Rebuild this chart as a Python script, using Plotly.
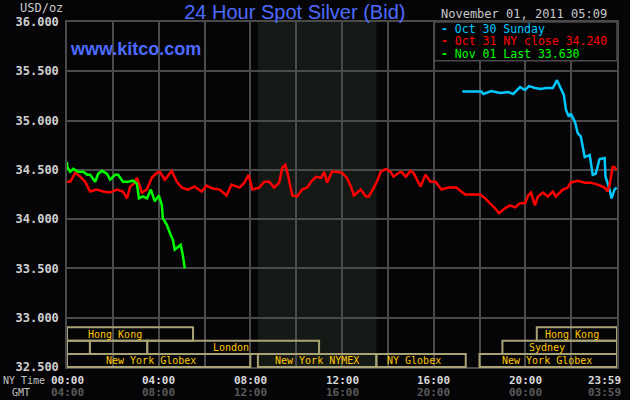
import plotly.graph_objects as go

# hours since 00:00 NY time, price in USD/oz
oct31_hours = [0.0, 0.14, 0.36, 0.58, 0.79, 1.01, 1.30, 1.58, 1.88, 2.18, 2.44, 2.62, 2.75, 2.97, 3.05,
               3.27, 3.48, 3.70, 3.92, 4.05, 4.27, 4.57, 4.79, 5.01, 5.27, 5.57, 5.88, 6.09, 6.35, 6.66,
               6.96, 7.18, 7.53, 7.74, 7.92, 8.09, 8.39, 8.61, 8.83, 9.04, 9.26, 9.39, 9.52, 9.61, 9.83,
               10.04, 10.26, 10.48, 10.65, 10.87, 11.09, 11.22, 11.35, 11.56, 11.78, 12.0, 12.21, 12.39,
               12.52, 12.82, 13.04, 13.17, 13.39, 13.52, 13.69, 13.91, 14.12, 14.25, 14.47, 14.60, 14.78,
               14.99, 15.12, 15.43, 15.64, 15.86, 16.08, 16.34, 16.64, 16.99, 17.20, 17.38, 18.03, 18.25,
               18.46, 18.68, 18.85, 19.11, 19.33, 19.55, 19.77, 19.99, 20.12, 20.25, 20.42, 20.55, 20.77,
               20.98, 21.20, 21.33, 21.64, 21.85, 21.98, 22.29, 22.59, 22.85, 23.16, 23.46, 23.59, 23.68,
               23.81, 23.89, 23.98]
oct31_price = [34.38, 34.38, 34.47, 34.43, 34.38, 34.28, 34.30, 34.28, 34.27, 34.30, 34.28, 34.21, 34.33,
               34.37, 34.42, 34.27, 34.30, 34.42, 34.47, 34.48, 34.40, 34.49, 34.38, 34.32, 34.30, 34.33,
               34.28, 34.34, 34.31, 34.30, 34.24, 34.35, 34.32, 34.37, 34.45, 34.30, 34.32, 34.38, 34.38,
               34.32, 34.37, 34.52, 34.55, 34.48, 34.24, 34.23, 34.30, 34.32, 34.38, 34.43, 34.42, 34.48,
               34.37, 34.48, 34.48, 34.47, 34.42, 34.33, 34.24, 34.30, 34.23, 34.23, 34.32, 34.38, 34.48,
               34.51, 34.48, 34.43, 34.47, 34.48, 34.43, 34.49, 34.47, 34.33, 34.45, 34.38, 34.38, 34.30,
               34.32, 34.32, 34.28, 34.25, 34.25, 34.21, 34.16, 34.11, 34.06, 34.11, 34.14, 34.12, 34.16,
               34.16, 34.24, 34.27, 34.14, 34.23, 34.27, 34.23, 34.28, 34.23, 34.30, 34.32, 34.37, 34.39,
               34.37, 34.37, 34.35, 34.32, 34.28, 34.35, 34.53, 34.53, 34.50]

oct30_hours = [17.25, 18.08, 18.17, 18.51, 18.91, 19.25, 19.47, 19.77, 19.99, 20.16, 20.42, 20.68, 20.90,
               21.20, 21.38, 21.55, 21.68, 21.77, 21.90, 21.98, 22.16, 22.29, 22.42, 22.59, 22.81, 22.94,
               23.07, 23.24, 23.46, 23.50, 23.68, 23.76, 23.89, 23.98]
oct30_price = [35.295, 35.295, 35.27, 35.30, 35.28, 35.29, 35.27, 35.34, 35.31, 35.35, 35.33, 35.32, 35.33,
               35.33, 35.41, 35.33, 35.26, 35.11, 35.04, 35.07, 34.99, 34.87, 34.84, 34.63, 34.65, 34.45,
               34.46, 34.61, 34.62, 34.43, 34.30, 34.21, 34.30, 34.32]

nov01_hours = [0.0, 0.01, 0.14, 0.27, 0.49, 0.71, 0.88, 1.01, 1.23, 1.36, 1.53, 1.75, 1.88, 2.10, 2.23,
               2.44, 2.66, 2.88, 3.05, 3.14, 3.31, 3.49, 3.66, 3.83, 4.01, 4.14, 4.18, 4.36, 4.49, 4.62,
               4.70, 4.83, 4.96, 5.05, 5.14]
nov01_price = [34.58, 34.53, 34.48, 34.51, 34.48, 34.48, 34.45, 34.45, 34.38, 34.46, 34.49, 34.46, 34.40,
               34.45, 34.45, 34.38, 34.38, 34.39, 34.36, 34.21, 34.23, 34.21, 34.30, 34.18, 34.24, 34.14,
               34.01, 33.94, 33.86, 33.79, 33.69, 33.72, 33.74, 33.64, 33.50]

series_names = ["Oct 30 Sunday", "Oct 31 NY close 34.240", "Nov 01 Last 33.630"]
series_colors = ["#00c8ff", "#ff0000", "#00ff00"]

y_ticks = [32.5, 33.0, 33.5, 34.0, 34.5, 35.0, 35.5, 36.0]
grid_hours = [0, 2, 4, 6, 8, 10, 12, 14, 16, 18, 20, 22, 24]
label_hours = [0, 4, 8, 12, 16, 20, 24]
ny_labels = ["00:00", "04:00", "08:00", "12:00", "16:00", "20:00", "23:59"]
gmt_labels = ["04:00", "08:00", "12:00", "16:00", "20:00", "00:00", "03:59"]

# trading sessions: start, end (hours), row (1 = top), label, label position
sess_start = [0, 0, 1.0, 3.5, 0, 8.33, 13.5, 18.0, 19.0, 20.5]
sess_end = [5.5, 1.0, 3.5, 11.0, 8.0, 13.5, 17.4, 24, 24, 24]
sess_row = [1, 2, 2, 2, 3, 3, 3, 3, 2, 1]
sess_label = ["Hong Kong", "", "", "London", "New York Globex", "New York NYMEX", "NY Globex",
              "New York Globex", "Sydney", "Hong Kong"]
sess_label_x = [2.1, 0, 0, 7.15, 3.65, 10.9, 15.15, 20.95, 20.95, 22.05]
nymex_open, nymex_close = 8.33, 13.5

BG = "#050508"
GRID = "#4a4a4a"
MONO = "DejaVu Sans Mono"
row_bounds = {1: (0.076, 0.115), 2: (0.038, 0.076), 3: (0.0, 0.038)}


def note(text, x, y, xref="paper", xanchor="center", xshift=0, **font):
    fig.add_annotation(x=x, y=y, xref=xref, yref="paper", text=text, showarrow=False,
                       xanchor=xanchor, yanchor="middle", xshift=xshift, font=font)


fig = go.Figure()

fig.add_shape(type="rect", xref="x", yref="paper", x0=nymex_open, x1=nymex_close, y0=0, y1=1,
              fillcolor="#151915", line_width=0, layer="below")

for hours, price, name, color in zip([oct30_hours, oct31_hours, nov01_hours],
                                     [oct30_price, oct31_price, nov01_price],
                                     series_names, series_colors):
    fig.add_trace(go.Scatter(x=hours, y=price, mode="lines", name=name,
                             line=dict(color=color, width=2.5), showlegend=False))

for s, e, r, lab, lx in zip(sess_start, sess_end, sess_row, sess_label, sess_label_x):
    y0, y1 = row_bounds[r]
    fig.add_shape(type="rect", xref="x", yref="paper", x0=s, x1=e, y0=y0, y1=y1,
                  line=dict(color="#a8a274", width=2), fillcolor="rgba(0,0,0,0)", layer="above")
    if lab:
        note(lab, lx, (y0 + y1) / 2, xref="x", family=MONO, size=10, color="#ffc800")

# legend box
fig.add_shape(type="rect", xref="paper", yref="paper", x0=0.668, x1=1.0, y0=0.888, y1=1.0,
              fillcolor=BG, line=dict(color=GRID, width=1.5), layer="above")
for i, (name, color) in enumerate(zip(series_names, series_colors)):
    note("<b>-</b> " + name, 0.677, 0.981 - i * 0.0365, xanchor="left",
         family=MONO, size=11.5, color=color)

note("November 01, 2011 05:09", 0.83, 1.024, family=MONO, size=12, color="#c8c8c8")
note("<b>www.kitco.com</b>", 0.0, 0.922, xanchor="left", xshift=1,
     family="Liberation Sans", size=18, color="#4d6bff")
note("USD/oz", -0.047, 1.0415, family=MONO, size=12, color="#c8c8c8")
note("NY Time", -0.078, -0.0386, family=MONO, size=10, color="#c0c0c0")
note("GMT", -0.084, -0.0735, family=MONO, size=10, color="#c0c0c0")

for h, ny, gmt in zip(label_hours, ny_labels, gmt_labels):
    anchor = "right" if h == 24 else "center"
    shift = 6 if h == 24 else 0
    note("<b>" + ny + "</b>", h, -0.0386, xref="x", xanchor=anchor, xshift=shift,
         family=MONO, size=11, color="#d8d8d8")
    note("<b>" + gmt + "</b>", h, -0.0735, xref="x", xanchor=anchor, xshift=shift,
         family=MONO, size=11, color="#5a5a5a")

fig.update_layout(
    width=630, height=400,
    margin=dict(l=67, r=11, t=22, b=33),
    paper_bgcolor=BG, plot_bgcolor=BG,
    title=dict(text="24 Hour Spot Silver (Bid)", x=0.468, xanchor="center", y=0.97, yanchor="middle",
               font=dict(family="Liberation Sans", size=20, color="#4d6bff")),
    xaxis=dict(range=[0, 24], tickvals=grid_hours, showticklabels=False, showgrid=True,
               gridcolor=GRID, gridwidth=1.5, zeroline=False, showline=True, linecolor=GRID,
               linewidth=1.5, mirror=True, fixedrange=True),
    yaxis=dict(range=[32.5, 36], tickvals=y_ticks, tickformat=".3f", showgrid=True, gridcolor=GRID,
               gridwidth=1.5, zeroline=False, showline=True, linecolor=GRID, linewidth=1.5, mirror=True,
               ticks="", ticklabelstandoff=4,
               tickfont=dict(family=MONO, size=12, color="#d0d0d0", weight="bold"), fixedrange=True),
)

# the page's default body margin would push the 630x400 figure out of the window
fig.write_html("out.html", config={"displayModeBar": False},
               post_script="document.body.style.margin = '0';")
